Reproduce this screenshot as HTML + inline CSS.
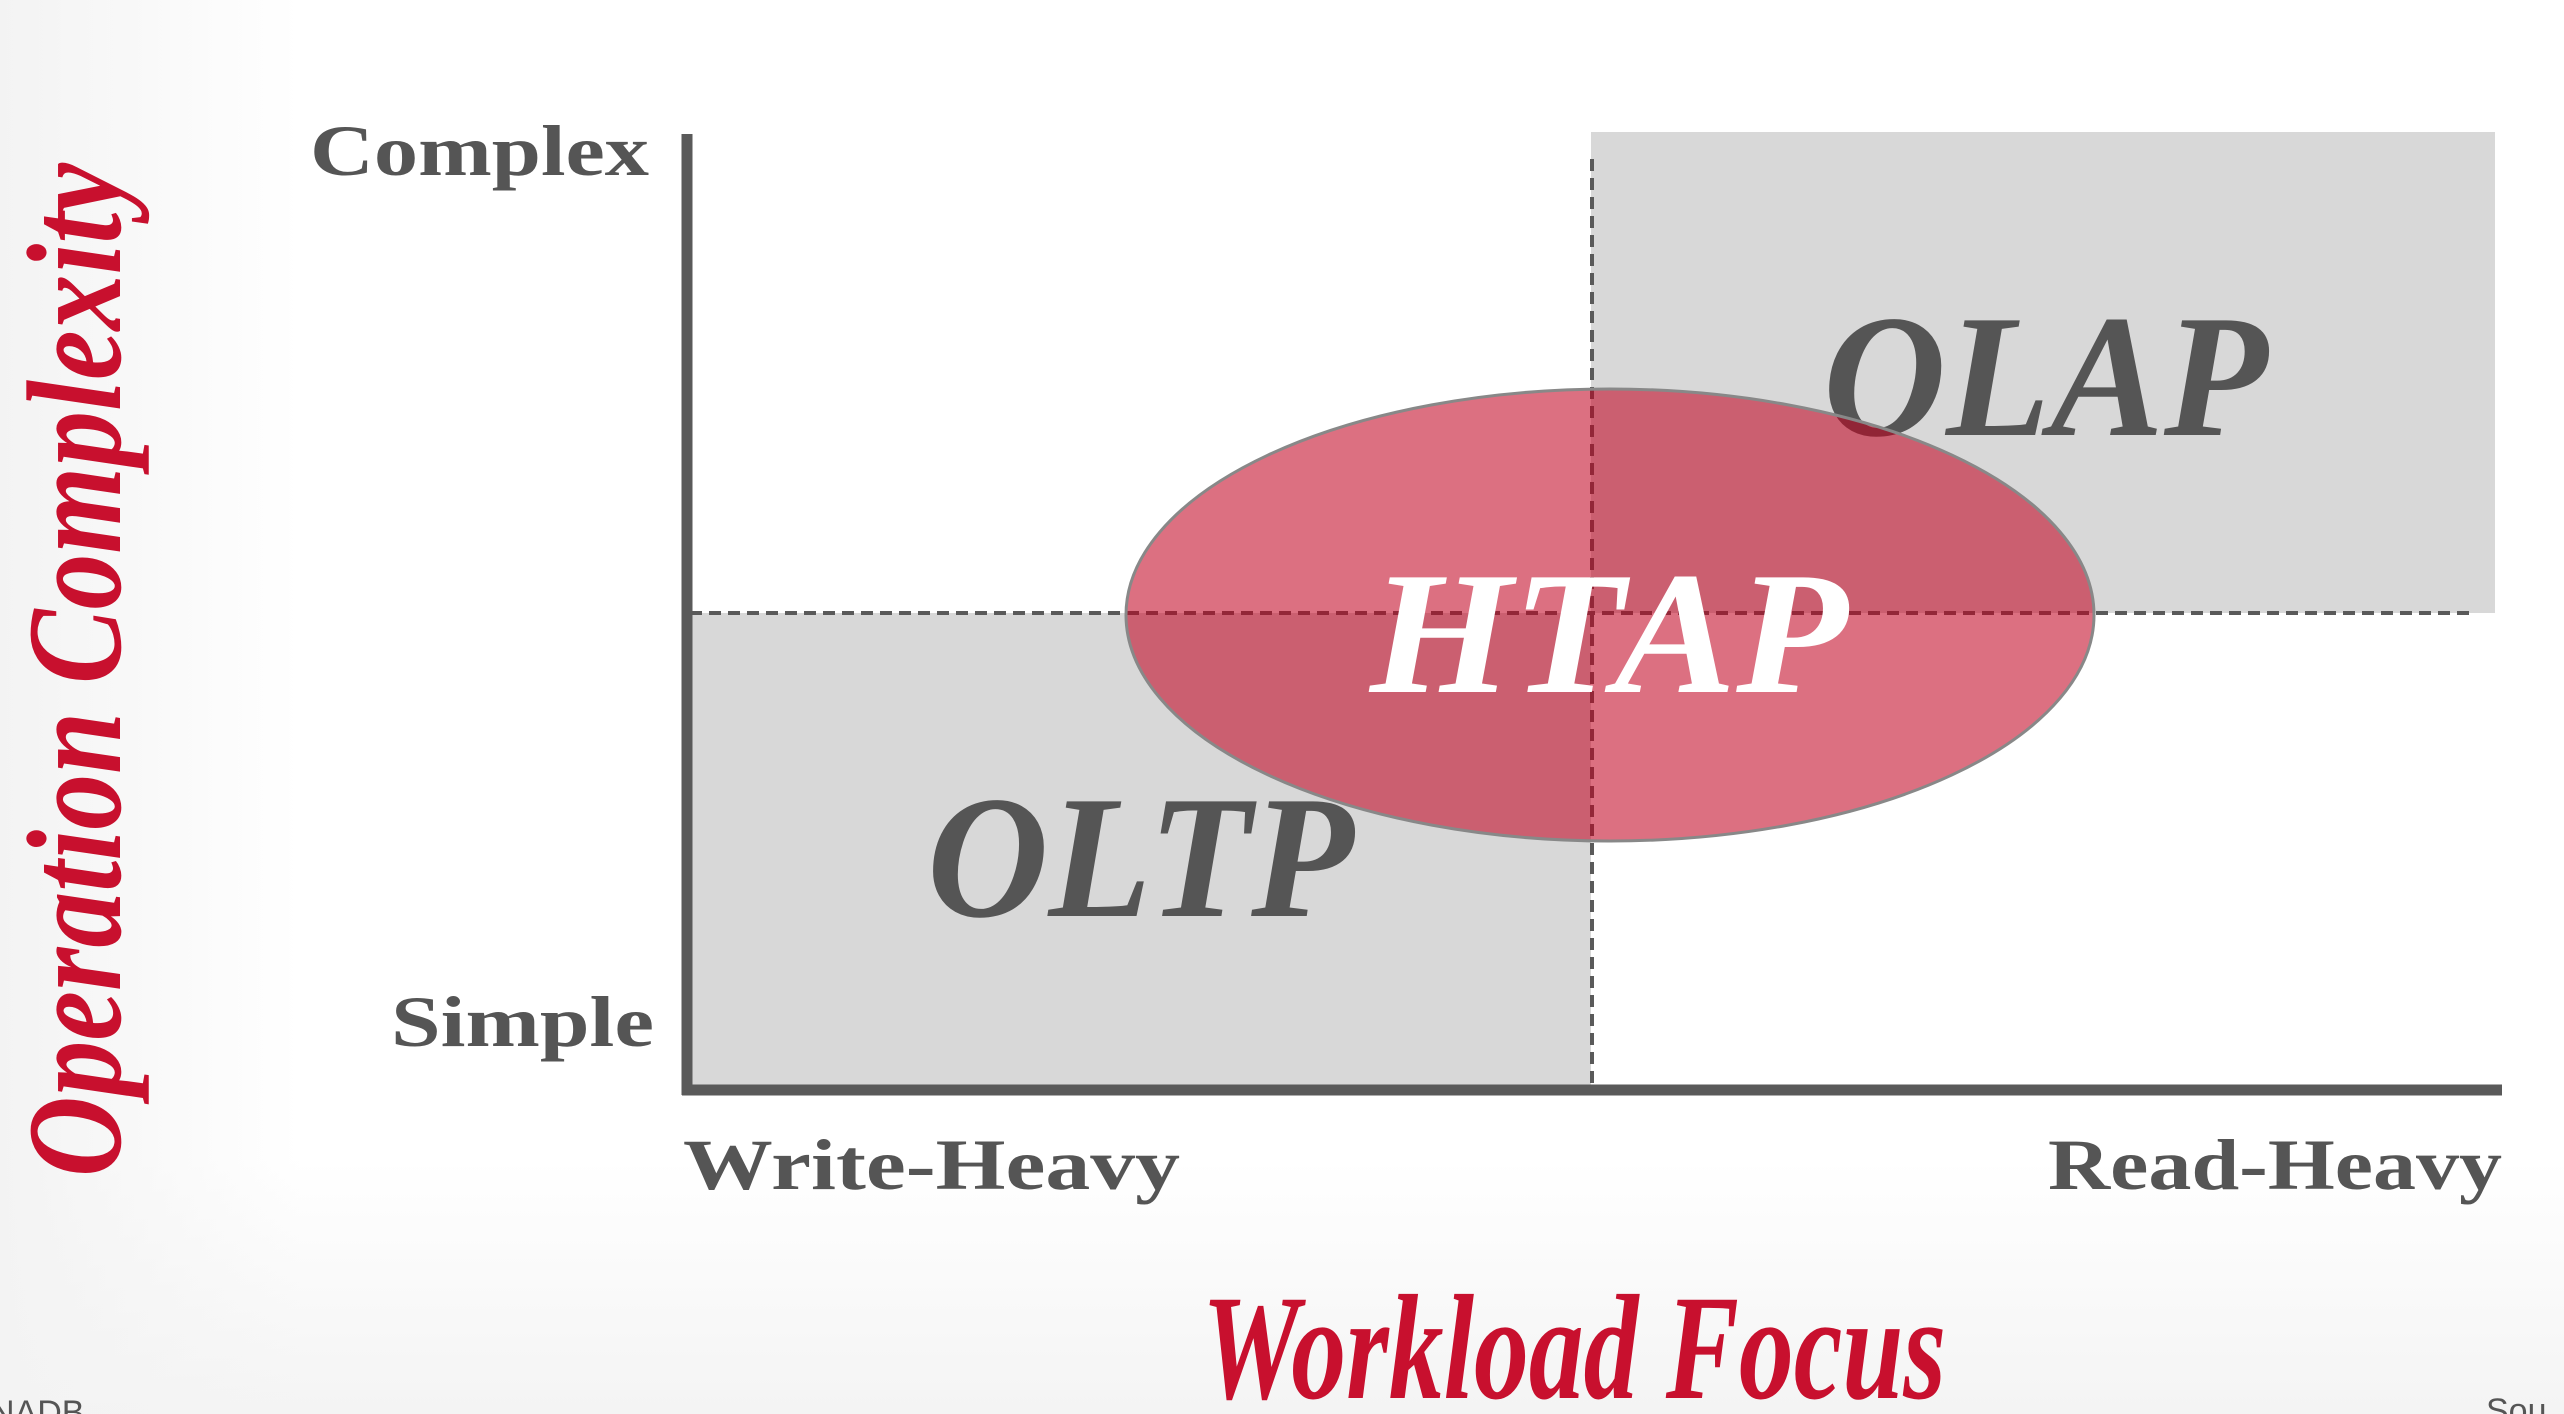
<!DOCTYPE html>
<html><head><meta charset="utf-8"><style>
html,body{margin:0;padding:0;width:2564px;height:1414px;overflow:hidden;background:#fff}
svg{display:block}
</style></head><body>
<svg width="2564" height="1414" viewBox="0 0 2564 1414" xmlns="http://www.w3.org/2000/svg">
<defs>
<linearGradient id="bg" x1="0" y1="0" x2="0" y2="1">
<stop offset="0" stop-color="#ffffff"/><stop offset="0.82" stop-color="#ffffff"/><stop offset="1" stop-color="#f4f4f4"/>
</linearGradient>
<linearGradient id="bgl" x1="0" y1="0" x2="1" y2="0">
<stop offset="0" stop-color="#f3f3f3"/><stop offset="1" stop-color="#f3f3f3" stop-opacity="0"/>
</linearGradient>
</defs>
<rect width="2564" height="1414" fill="url(#bg)"/>
<rect width="300" height="1414" fill="url(#bgl)"/>
<!-- gray quadrants -->
<rect x="687" y="613" width="904" height="477" fill="#d8d8d8"/>
<rect x="1591" y="132" width="904" height="481" fill="#d8d8d8"/>
<!-- dashed lines -->
<line x1="690" y1="613" x2="2469" y2="613" stroke="#5a5a5a" stroke-width="4" stroke-dasharray="12,7"/>
<line x1="1592" y1="159" x2="1592" y2="1090" stroke="#5a5a5a" stroke-width="4" stroke-dasharray="12,7"/>
<!-- OLAP under ellipse -->
<text x="1823" y="435" font-family="Liberation Serif, serif" font-style="italic" font-weight="bold" font-size="175" fill="#555" textLength="445" lengthAdjust="spacingAndGlyphs">OLAP</text>
<!-- ellipse -->
<ellipse cx="1610" cy="615" rx="484" ry="226" fill="rgba(193,0,30,0.56)" stroke="#888" stroke-width="3"/>
<!-- axes -->
<line x1="687" y1="134" x2="687" y2="1095" stroke="#5a5a5a" stroke-width="11"/>
<line x1="682" y1="1090" x2="2502" y2="1090" stroke="#5a5a5a" stroke-width="11"/>
<!-- quadrant labels -->
<text x="927" y="916" font-family="Liberation Serif, serif" font-style="italic" font-weight="bold" font-size="175" fill="#555" textLength="427" lengthAdjust="spacingAndGlyphs">OLTP</text>
<text x="1370" y="692" font-family="Liberation Serif, serif" font-style="italic" font-weight="bold" font-size="175" fill="#fff" textLength="478" lengthAdjust="spacingAndGlyphs">HTAP</text>
<!-- axis labels -->
<g font-family="Liberation Serif, serif" font-weight="bold" fill="#555" font-size="72">
<text x="649" y="175" text-anchor="end" textLength="339" lengthAdjust="spacingAndGlyphs">Complex</text>
<text x="654" y="1046" text-anchor="end" textLength="263" lengthAdjust="spacingAndGlyphs">Simple</text>
<text x="683" y="1189" textLength="497" lengthAdjust="spacingAndGlyphs">Write-Heavy</text>
<text x="2502" y="1189" text-anchor="end" textLength="454" lengthAdjust="spacingAndGlyphs">Read-Heavy</text>
</g>
<!-- titles -->
<text transform="translate(120,670) rotate(-90)" text-anchor="middle" font-family="Liberation Serif, serif" font-style="italic" font-weight="bold" font-size="135" fill="#c8102e" textLength="1014" lengthAdjust="spacingAndGlyphs">Operation Complexity</text>
<text x="1202" y="1398" font-family="Liberation Serif, serif" font-style="italic" font-weight="bold" font-size="150" fill="#c8102e" textLength="744" lengthAdjust="spacingAndGlyphs">Workload Focus</text>
<text x="-10" y="1424" font-family="Liberation Sans, sans-serif" font-size="34" fill="#555">NADB</text>
<text x="2486" y="1422" font-family="Liberation Sans, sans-serif" font-size="34" fill="#555">Sou</text>
</svg>
</body></html>
